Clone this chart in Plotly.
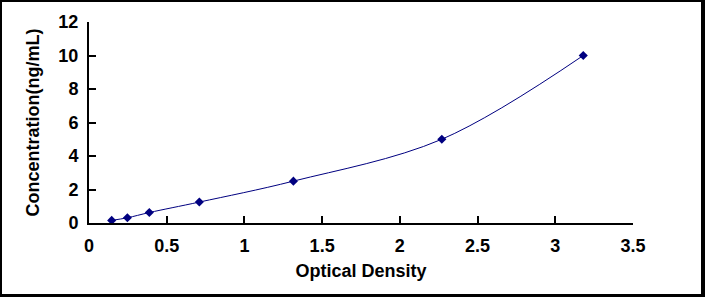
import plotly.graph_objects as go

optical_density = [0.146, 0.247, 0.388, 0.71, 1.315, 2.27, 3.18]
concentration = [0.156, 0.312, 0.625, 1.25, 2.5, 5.0, 10.0]

W, H = 705, 297
L, R, T, B = 89, 72, 22, 74
pw, ph = W - L - R, H - T - B

def px(x):
    return (x - L) / pw

def py(y):
    return (H - B - y) / ph

navy = "#000080"
font = dict(family="Arial, Liberation Sans, sans-serif", size=18, color="black", weight="bold")

fig = go.Figure()
fig.add_trace(go.Scatter(
    x=optical_density, y=concentration, mode="lines+markers",
    line=dict(color=navy, width=1, shape="spline", smoothing=1),
    marker=dict(symbol="diamond", size=7, color=navy),
    showlegend=False, cliponaxis=False,
))

axis_common = dict(showgrid=False, zeroline=False, showline=True, linecolor="black",
                   linewidth=2, ticks="inside", ticklen=7, tickwidth=2, tickcolor="black",
                   tickfont=font)

fig.update_layout(
    width=W, height=H, margin=dict(l=L, r=R, t=T, b=B, pad=0),
    paper_bgcolor="white", plot_bgcolor="white",
    xaxis=dict(range=[0, 3.5], dtick=0.5, tick0=0, **axis_common,
               title=dict(text="Optical Density", font=font, standoff=10),
               ticklabelstandoff=5),
    yaxis=dict(range=[0, 12], dtick=2, tick0=0, **axis_common,
               title=dict(text="Concentration(ng/mL)", font=font, standoff=14),
               ticklabelstandoff=5),
)

borders = [
    (0, 0, 2, H),
    (0, 0, W, 2),
    (W - 4, 0, W, H),
    (0, H - 3, W, H),
]
for x0, y0, x1, y1 in borders:
    fig.add_shape(type="rect", xref="paper", yref="paper",
                  x0=px(x0), x1=px(x1), y0=py(y1), y1=py(y0),
                  fillcolor="black", line=dict(width=0), layer="above")

fig.write_html("out.html")
